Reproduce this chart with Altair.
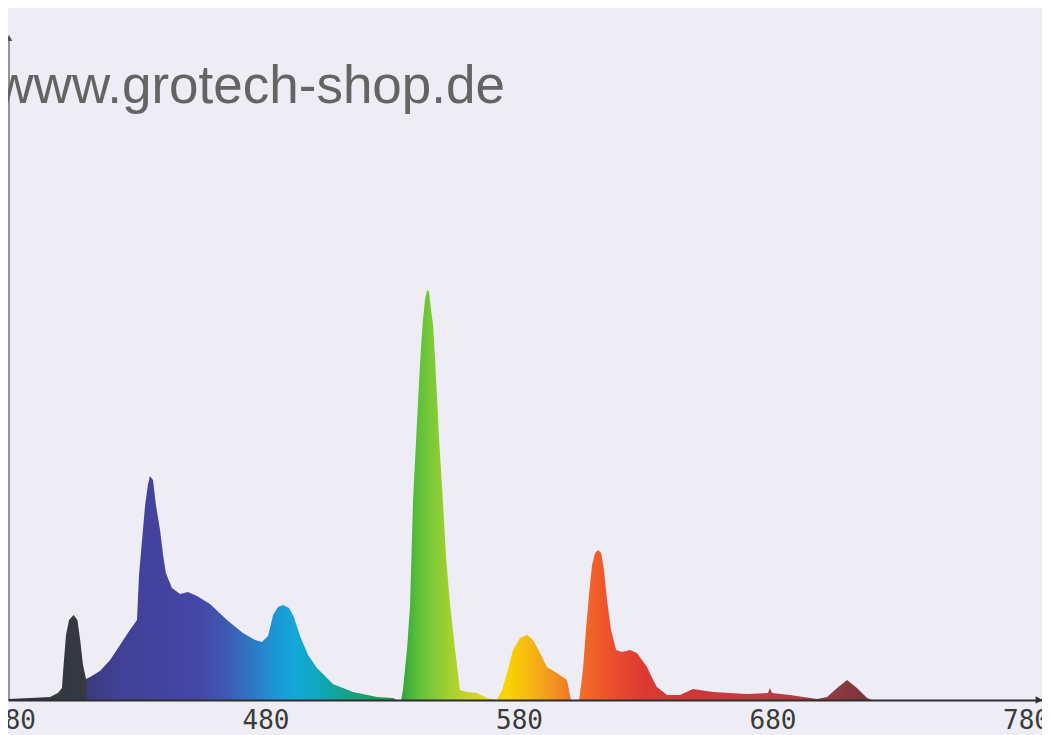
import altair as alt
import pandas as pd

# Spectrum: wavelength (nm) and relative intensity (axis tick units)
WAVELENGTH = [378.4, 387.1, 395.0, 398.1, 399.7, 400.5, 401.3, 402.5, 404.3, 405.8, 406.9, 408.0, 409.2,
              410.8, 414.7, 418.7, 422.6, 426.5, 429.3, 430.1, 431.3, 432.5, 433.6, 434.4, 435.6, 436.8,
              438.4, 439.6, 440.7, 443.1, 446.3, 449.4, 453.0, 458.1, 464.8, 471.1, 475.9, 478.6, 481.0,
              483.0, 484.9, 486.9, 489.3, 491.2, 493.6, 496.8, 500.3, 506.6, 514.5, 524.0, 530.3, 531.9,
              533.5, 534.2, 535.8, 537.0, 538.2, 539.4, 540.6, 541.4, 542.1, 542.9, 543.7, 544.5, 545.3,
              546.1, 546.9, 547.7, 548.5, 549.7, 551.3, 552.9, 554.8, 556.7, 559.5, 563.4, 567.4, 571.3,
              573.3, 575.3, 577.6, 580.4, 583.2, 585.5, 588.3, 591.0, 595.0, 598.9, 599.7, 600.5, 603.7,
              604.5, 605.3, 606.4, 607.6, 608.8, 610.0, 611.2, 612.4, 613.5, 614.7, 616.3, 618.3, 620.6,
              623.8, 626.5, 630.5, 632.5, 634.4, 638.4, 643.5, 648.6, 656.5, 669.9, 678.2, 679.0, 679.8,
              686.9, 697.6, 701.5, 705.5, 709.4, 713.3, 717.3, 719.2, 786.3]
INTENSITY = [0.005, 0.010, 0.015, 0.034, 0.059, 0.195, 0.317, 0.390, 0.415, 0.390, 0.293, 0.171, 0.102,
             0.112, 0.141, 0.195, 0.268, 0.341, 0.390, 0.610, 0.780, 0.950, 1.049, 1.093, 1.073, 0.950,
             0.829, 0.707, 0.620, 0.546, 0.517, 0.527, 0.507, 0.468, 0.390, 0.327, 0.293, 0.283, 0.312,
             0.415, 0.454, 0.463, 0.449, 0.405, 0.312, 0.220, 0.156, 0.078, 0.039, 0.015, 0.010, 0.0,
             0.0, 0.049, 0.244, 0.454, 0.976, 1.268, 1.561, 1.732, 1.854, 1.951, 2.000, 1.990, 1.902,
             1.829, 1.659, 1.463, 1.268, 1.024, 0.683, 0.454, 0.244, 0.049, 0.039, 0.034, 0.010, 0.0,
             0.049, 0.132, 0.244, 0.302, 0.317, 0.293, 0.229, 0.161, 0.132, 0.098, 0.049, 0.0, 0.0,
             0.073, 0.161, 0.341, 0.512, 0.659, 0.717, 0.732, 0.717, 0.634, 0.488, 0.341, 0.244, 0.234,
             0.244, 0.229, 0.161, 0.107, 0.063, 0.024, 0.024, 0.054, 0.039, 0.029, 0.034, 0.059, 0.034,
             0.024, 0.005, 0.015, 0.059, 0.098, 0.059, 0.010, 0.0, 0.0]

TICK_LABELS = [380, 480, 580, 680, 780]
WATERMARK = "www.grotech-shop.de"

# Colour of the fill along the wavelength axis
STOP_NM = [378.4, 409.0, 410.0, 425, 440, 455, 465, 475, 485, 492, 500, 510, 522, 531, 535, 540, 545,
           552, 560, 568, 575, 583, 592, 600, 606, 612, 620, 630, 645, 670, 690, 705, 720, 786.3]
STOP_COLORS = ["#33373f", "#343843", "#3b3c80", "#41419a", "#44449f", "#4548a8", "#3c5cb5", "#2e78c4",
               "#1a9ad6", "#12a8d8", "#10a8c0", "#11a490", "#1e9c60", "#2a9a48", "#3aa83c", "#5cc03a",
               "#78c838", "#a0d030", "#c8d428", "#e8d818", "#f8d400", "#f6bc10", "#f29a20", "#f07828",
               "#f06a28", "#f05a2a", "#e84830", "#dc3a32", "#d03838", "#c03c40", "#b03c44", "#8e3a42",
               "#7a3038", "#6a2a30"]

df = pd.DataFrame({"wl": WAVELENGTH, "val": INTENSITY})
lo, hi = WAVELENGTH[0], WAVELENGTH[-1]
stops = [alt.GradientStop(offset=(w - lo) / (hi - lo), color=c) for w, c in zip(STOP_NM, STOP_COLORS)]

W, H = 1034, 692
xscale = alt.Scale(domain=[378.42, 786.3], nice=False, zero=False)
yscale = alt.Scale(domain=[0, 692 / 205], nice=False)

xaxis = alt.Axis(values=TICK_LABELS, title=None, grid=False, ticks=False, domain=True,
                 domainColor="#2e2e2e", domainWidth=2, labelFont="DejaVu Sans Mono", labelFontSize=26,
                 labelColor="#3a3a3a", labelPadding=7, labelFlush=False, labelOverlap=False, zindex=1)

area = alt.Chart(df).mark_area(
    interpolate="linear",
    color=alt.Gradient(gradient="linear", stops=stops, x1=0, x2=1, y1=1, y2=1),
).encode(
    x=alt.X("wl:Q", scale=xscale, axis=xaxis),
    y=alt.Y("val:Q", scale=yscale, axis=None),
)

yline = alt.Chart(pd.DataFrame({"a": [0]})).mark_rule(color="#777777", strokeWidth=1.5).encode(
    x=alt.value(1), y=alt.value(30), y2=alt.value(H)
)
yarrow = alt.Chart(pd.DataFrame({"a": [0]})).mark_point(
    shape="triangle-up", filled=True, color="#555555", size=45, opacity=1
).encode(x=alt.value(1), y=alt.value(30))
xarrow = alt.Chart(pd.DataFrame({"a": [0]})).mark_point(
    shape="triangle-right", filled=True, color="#2e2e2e", size=60, opacity=1
).encode(x=alt.value(1031), y=alt.value(H))

mark_text = alt.Chart(pd.DataFrame({"t": [WATERMARK]})).mark_text(
    font="Liberation Sans", fontSize=53, color="#646464", align="right", baseline="alphabetic"
).encode(x=alt.value(497), y=alt.value(95), text="t:N")

chart = alt.layer(area, yline, yarrow, xarrow, mark_text).properties(
    width=W, height=H, background="#eeedf5",
    padding={"left": 0, "top": 0, "right": 0, "bottom": 35},
    autosize=alt.AutoSizeParams(type="none"),
).configure_view(stroke=None)

chart.save("out.html", embed_options={"renderer": "svg", "actions": False})
